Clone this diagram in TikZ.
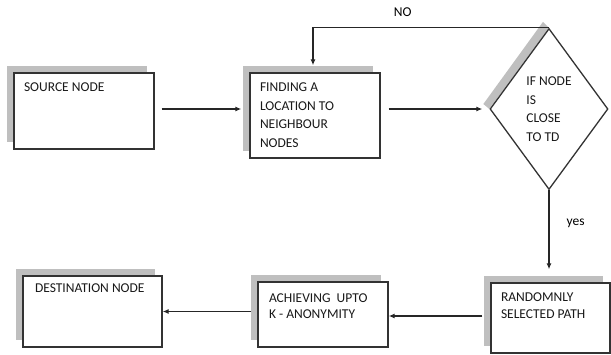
\documentclass[tikz,border=0pt]{standalone}
\usepackage{fontspec}
\setmainfont{Carlito}
\usetikzlibrary{positioning, shapes.geometric, shadows, arrows.meta, backgrounds}

\begin{document}
\begin{tikzpicture}[
    x=1pt, y=-1pt, % work in picture pixels, y pointing down
    >={Latex[length=6pt,width=5pt]}, % small filled arrow heads
    line width=1.3pt,
    font=\fontsize{13.5}{18.5}\selectfont,
    box/.style={draw=black!80, fill=white, inner sep=0pt,
        drop shadow={shadow xshift=-7pt, shadow yshift=7pt, opacity=1, fill=black!25}},
    txt/.style={anchor=north west, inner sep=0pt, xshift=10pt, yshift=-10pt, align=left, text=black!90},
    link/.style={->, draw=black!85, line width=1.2pt}
]
\useasboundingbox (0,0) rectangle (611,354);

% Boxes with their texts
\node[box, minimum width=140pt, minimum height=76pt, label={[txt]north west:SOURCE NODE}] (src) at (84,111) {};
\node[box, minimum width=130pt, minimum height=85pt, label={[txt]north west:FINDING A\\LOCATION TO\\NEIGHBOUR\\NODES}] (find) at (315,115.5) {};
\node[diamond, aspect=0.73, draw=black!80, fill=white, inner sep=0pt, minimum width=118pt, minimum height=161pt, align=left, text=black!90] (dia) at (549,109) {IF NODE\\IS\\CLOSE\\TO TD};
\node[box, minimum width=119pt, minimum height=70pt, label={[txt]north west:RANDOMNLY\\[-1.5pt]SELECTED PATH}] (rand) at (550.5,318) {};
\node[box, minimum width=130pt, minimum height=65pt, label={[txt, xshift=1pt, yshift=-2pt]north west:ACHIEVING~ UPTO\\[-3pt]K - ANONYMITY}] (ach) at (323,314.5) {};
\node[box, minimum width=139pt, minimum height=71pt, label={[txt, xshift=2pt, yshift=2pt]north west:DESTINATION NODE}] (dest) at (92.5,311.5) {};

% Shadow of the decision
\begin{pgfonlayer}{background}
\fill[black!25] (dia.west) -- (dia.north) -- ([shift={(-6pt,6pt)}]dia.north) -- ([shift={(-6pt,5pt)}]dia.west) -- cycle;
\end{pgfonlayer}

% Edges
\draw[link] ([xshift=7pt]src.east |- dia.west) -- ([xshift=-8pt]find.west |- dia.west);
\draw[link] ([xshift=8pt]find.east |- dia.west) -- ([xshift=-7pt]dia.west);
\draw[link] (dia.north) -| node[pos=0.31, above=11pt, inner sep=0pt] {NO} ([xshift=-2pt, yshift=7pt]find.north);
\draw[link] (dia.south) -- node[pos=0.42, right=17pt, inner sep=0pt] {yes} ([yshift=13pt]dia.south |- rand.north);
\draw[link] ([xshift=-8pt, yshift=2pt]rand.west) -- ([yshift=2pt]rand.west -| ach.east);
\draw[link] ([xshift=-6pt]ach.west |- dest.east) -- (dest.east);

\end{tikzpicture}
\end{document}
